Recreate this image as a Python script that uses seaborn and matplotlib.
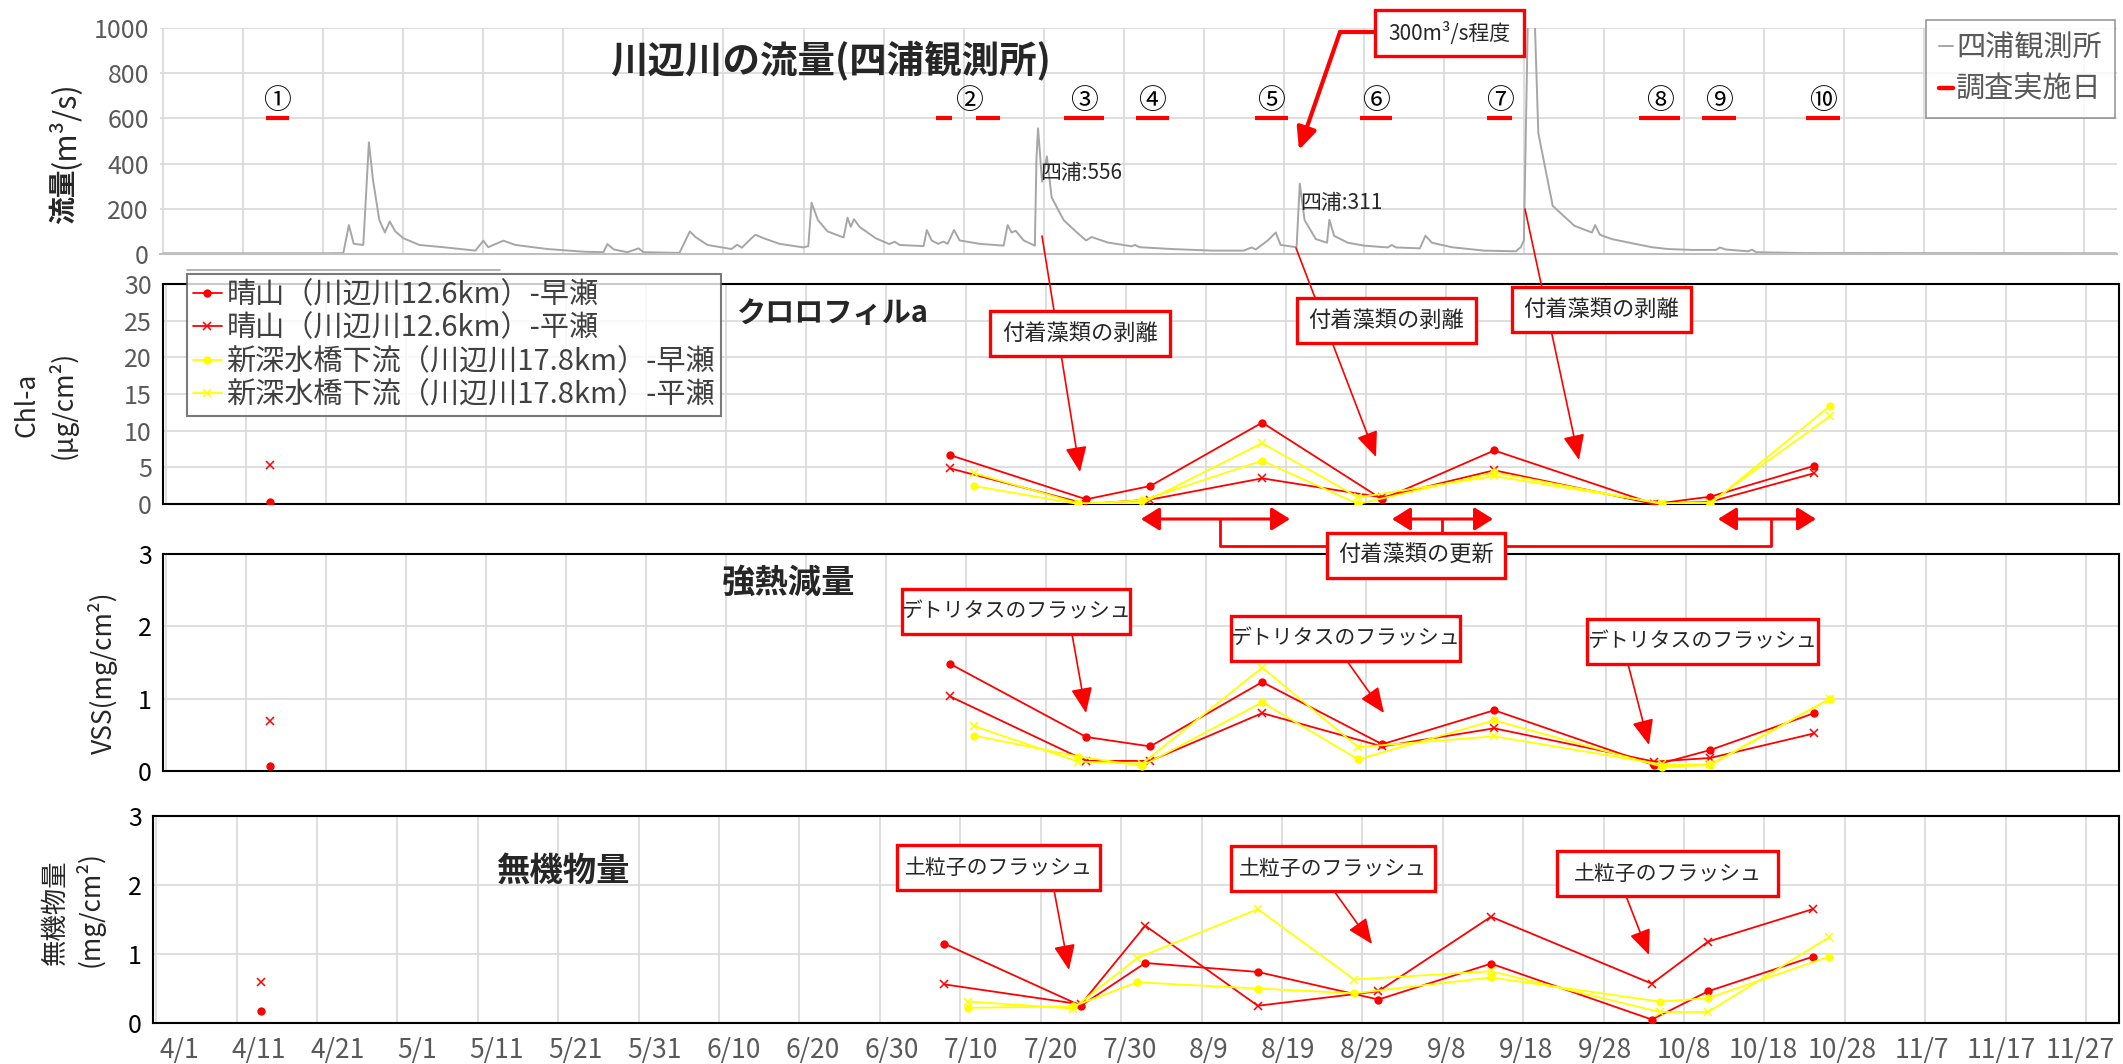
import datetime as dt

import matplotlib
matplotlib.use("Agg")
import matplotlib.pyplot as plt
import matplotlib.transforms as mtransforms
from matplotlib.lines import Line2D
from matplotlib.patches import Rectangle, FancyArrowPatch, ArrowStyle
import numpy as np
import pandas as pd
import seaborn as sns

sns.set_style("white")
plt.rcParams["font.family"] = ["Noto Sans CJK JP", "DejaVu Sans"]
plt.rcParams["axes.unicode_minus"] = False

ORIGIN = dt.date(2021, 4, 1)


def day_of(md):
    m, d = (int(v) for v in md.split("/"))
    return (dt.date(2021, m, d) - ORIGIN).days


# ---------------------------------------------------------------- data
# 四浦観測所の流量 (4/1 からの日数, m3/s)
flow_day = [0, 10, 20, 22.5, 23.2, 23.8, 25.0, 25.7, 26.2, 27.0, 27.7, 28.3, 29, 30, 32, 35, 39,
            40, 40.6, 42.5, 44, 48, 52.6, 55, 55.5, 56.3, 58, 59.4, 60, 64.5, 65.8, 66.5, 68, 71,
            71.7, 72.3, 73.5, 74, 75, 77, 80, 80.6, 81, 81.8, 83, 85, 85.5, 85.9, 86.3, 87, 89,
            90.7, 91.4, 92, 95, 95.4, 96, 96.8, 97.5, 98, 98.8, 99.5, 102, 105, 105.5, 106, 106.5,
            107.5, 108.9, 109.1, 109.3, 109.8, 110.4, 111, 112.5, 114, 115.3, 116, 118, 121, 121.4,
            122, 126, 131, 135, 136, 136.5, 138, 139, 139.6, 140.6, 141.6, 142, 142.6, 144, 145.4,
            145.7, 146.3, 148, 150, 153, 153.5, 154, 157, 157.7, 158.5, 161, 165, 169, 169.6,
            170.0, 170.6, 171.3, 171.8, 173.6, 176.3, 178.5, 178.9, 179.5, 181, 184, 186, 188, 191,
            194, 194.5, 195.2, 198, 198.5, 199, 205, 244]
flow_q = [3, 3, 3, 4, 128, 45, 40, 494, 330, 150, 95, 144, 100, 70, 40, 30, 15,
          59, 30, 59, 40, 22, 10, 8, 44, 20, 8, 25, 8, 5, 100, 75, 40, 22,
          41, 28, 70, 85, 70, 45, 29, 35, 227, 150, 100, 73, 161, 120, 154, 120, 70,
          44, 54, 40, 35, 106, 60, 45, 55, 45, 106, 60, 45, 37, 128, 95, 103,
          60, 37, 420, 556, 320, 432, 250, 150, 100, 60, 75, 51, 34, 40,
          30, 22, 15, 15, 29, 20, 60, 95, 40, 35, 30, 311, 150, 66, 50,
          151, 80, 50, 37, 29, 40, 29, 25, 81, 50, 30, 15, 12, 30,
          60, 1250, 1100, 535, 213, 125, 95, 128, 85, 66, 44, 30, 22, 18,
          18, 29, 20, 12, 19, 8, 4, 3]

# 調査実施日 (バー表示区間, 日数)
survey_no = ["①", "②", "②", "③", "④", "⑤", "⑥", "⑦", "⑧", "⑨", "⑩"]
survey_start = [12.8, 96.6, 101.5, 112.5, 121.5, 136.4, 149.5, 165.4, 184.4, 192.3, 205.3]
survey_end = [15.7, 98.5, 104.6, 117.5, 125.6, 140.5, 153.5, 168.5, 189.5, 196.5, 209.5]

# 採取日
haruyama_date = ["4/14", "7/8", "7/25", "8/2", "8/16", "8/31", "9/14", "10/4", "10/11", "10/24"]
shinfuka_date = ["7/11", "7/24", "8/1", "8/16", "8/28", "9/14", "10/5", "10/11", "10/26"]

# クロロフィルa (μg/cm2)
chl_haruyama_hayase = [0.3, 6.66, 0.64, 2.45, 11.1, 0.64, 7.3, 0.0, 1.0, 5.2]
chl_haruyama_hirase = [5.3, 4.85, 0.0, 0.6, 3.5, 0.9, 4.6, 0.0, 0.3, 4.2]
chl_shinfuka_hayase = [2.45, 0.0, 0.5, 5.9, 0.0, 4.3, 0.0, 0.0, 13.4]
chl_shinfuka_hirase = [4.2, 0.1, 0.1, 8.3, 0.9, 3.8, 0.1, 0.2, 12.0]

# 強熱減量 VSS (mg/cm2)
vss_haruyama_hayase = [0.07, 1.48, 0.47, 0.34, 1.23, 0.37, 0.84, 0.08, 0.29, 0.80]
vss_haruyama_hirase = [0.69, 1.03, 0.14, 0.14, 0.80, 0.34, 0.59, 0.13, 0.18, 0.52]
vss_shinfuka_hayase = [0.49, 0.20, 0.07, 0.95, 0.16, 0.70, 0.06, 0.08, 1.00]
vss_shinfuka_hirase = [0.62, 0.13, 0.10, 1.43, 0.33, 0.48, 0.09, 0.09, 1.00]

# 無機物量 (mg/cm2)
ino_haruyama_hayase = [0.18, 1.15, 0.25, 0.87, 0.74, 0.34, 0.86, 0.05, 0.46, 0.96]
ino_haruyama_hirase = [0.60, 0.56, 0.27, 1.41, 0.25, 0.46, 1.54, 0.57, 1.18, 1.65]
ino_shinfuka_hayase = [0.22, 0.24, 0.59, 0.50, 0.43, 0.66, 0.31, 0.36, 0.96]
ino_shinfuka_hirase = [0.31, 0.21, 0.94, 1.65, 0.63, 0.75, 0.16, 0.16, 1.24]

series_names = ["晴山（川辺川12.6km）-早瀬", "晴山（川辺川12.6km）-平瀬",
                "新深水橋下流（川辺川17.8km）-早瀬", "新深水橋下流（川辺川17.8km）-平瀬"]

x_tick_labels = ["4/1", "4/11", "4/21", "5/1", "5/11", "5/21", "5/31", "6/10", "6/20", "6/30",
                 "7/10", "7/20", "7/30", "8/9", "8/19", "8/29", "9/8", "9/18", "9/28", "10/8",
                 "10/18", "10/28", "11/7", "11/17", "11/27"]

# ---------------------------------------------------------------- style
W, H, DPI = 2123, 1064, 100
RED = "#FF0000"
YEL = "#FFFF00"
GRID = "#D9D9D9"
TXT_GRAY = "#595959"
XLIM = (-0.4, 244.1)


def fx(px):
    return px / W


def fy(py):
    return 1 - py / H


def axes_rect(left, top, right, bottom):
    return [fx(left), fy(bottom), (right - left) / W, (bottom - top) / H]


fig = plt.figure(figsize=(W / DPI, H / DPI), dpi=DPI)
fig.patch.set_facecolor("white")

ax_q = fig.add_axes(axes_rect(160, 28, 2117, 254))
ax_chl = fig.add_axes(axes_rect(163, 284, 2119, 504))
ax_vss = fig.add_axes(axes_rect(163, 554, 2119, 771))
ax_ino = fig.add_axes(axes_rect(153, 816, 2119, 1023))

grid_days = [day_of(t) for t in x_tick_labels]


def style_axis(ax, ymax, ystep, tick_color, boxed=True):
    ax.set_xlim(*XLIM)
    ax.set_ylim(0, ymax)
    ax.set_xticks(grid_days)
    ax.set_yticks(np.arange(0, ymax + ystep / 2, ystep))
    ax.grid(True, color=GRID, lw=1.2)
    ax.set_axisbelow(True)
    ax.tick_params(length=0, labelsize=18, colors=tick_color, pad=8)
    ax.set_xticklabels([])
    for lab in ax.get_yticklabels():
        lab.set_family(["Liberation Sans Narrow", "Noto Sans CJK JP"])
    for s in ax.spines.values():
        s.set_visible(boxed)
        s.set_color("black")
        s.set_linewidth(1.5)
    ax.set_xlabel("")
    ax.set_ylabel("")


# ---------------------------------------------------------------- flow panel
flow_df = pd.DataFrame({"day": flow_day, "q": flow_q})
sns.lineplot(data=flow_df, x="day", y="q", ax=ax_q, color="#A6A6A6", lw=1.4,
             sort=False, estimator=None, legend=False)
style_axis(ax_q, 1000, 200, TXT_GRAY, boxed=False)
ax_q.spines["bottom"].set_visible(True)
ax_q.spines["bottom"].set_color("#BFBFBF")

bar_df = pd.DataFrame({"start": survey_start, "end": survey_end, "no": survey_no})
for _, r in bar_df.iterrows():
    ax_q.plot([r.start, r.end], [600, 600], color=RED, lw=3.0, solid_capstyle="butt")
for no, g in bar_df.groupby("no", sort=False):
    xc = (g.start.min() + g.end.max()) / 2
    ax_q.text(xc, 675, no, ha="center", va="center", fontsize=20, color="black")

ax_q.text(109.6, 360, "四浦:556", fontsize=15, ha="left", va="center")
ax_q.text(142.0, 225, "四浦:311", fontsize=15, ha="left", va="center")

leg_q = ax_q.legend(
    handles=[Line2D([], [], color="#A6A6A6", lw=1.4), Line2D([], [], color=RED, lw=3.2)],
    labels=["四浦観測所", "調査実施日"], loc="upper right",
    bbox_to_anchor=(fx(2115), fy(20)), bbox_transform=fig.transFigure,
    fontsize=21, frameon=True, fancybox=False, handlelength=0.5, handletextpad=0.1,
    borderpad=0.45, labelspacing=0.4, borderaxespad=0)
leg_q.get_frame().set_edgecolor("#7F7F7F")
leg_q.get_frame().set_linewidth(1.2)
for t in leg_q.get_texts():
    t.set_color(TXT_GRAY)

# ---------------------------------------------------------------- water quality panels
hr_days = [day_of(d) for d in haruyama_date]
sf_days = [day_of(d) for d in shinfuka_date]

series_style = [
    dict(color=RED, marker="o", ms=6, mew=0),
    dict(color=RED, marker="x", ms=6, mew=1.1),
    dict(color=YEL, marker="o", ms=6, mew=0),
    dict(color=YEL, marker="x", ms=6, mew=1.1),
]


def draw_series(ax, values):
    days_list = [hr_days, hr_days, sf_days, sf_days]
    for k, (days, vals, st) in enumerate(zip(days_list, values, series_style)):
        df = pd.DataFrame({"day": days, "v": vals})
        if k < 2:
            # first survey stands alone, the rest are joined
            lone, joined = df.iloc[:1], df.iloc[1:]
            ax.plot(lone.day, lone.v, ls="none", marker=st["marker"], ms=st["ms"],
                    mew=st["mew"], color=st["color"], zorder=3)
        else:
            joined = df
        sns.lineplot(data=joined, x="day", y="v", ax=ax, color=st["color"], lw=1.3,
                     marker=st["marker"], markersize=st["ms"], markeredgewidth=st["mew"],
                     markeredgecolor=st["color"], sort=False, estimator=None, legend=False,
                     zorder=3)


draw_series(ax_chl, [chl_haruyama_hayase, chl_haruyama_hirase, chl_shinfuka_hayase, chl_shinfuka_hirase])
style_axis(ax_chl, 30, 5, TXT_GRAY)
draw_series(ax_vss, [vss_haruyama_hayase, vss_haruyama_hirase, vss_shinfuka_hayase, vss_shinfuka_hirase])
style_axis(ax_vss, 3, 1, "black")
draw_series(ax_ino, [ino_haruyama_hayase, ino_haruyama_hirase, ino_shinfuka_hayase, ino_shinfuka_hirase])
style_axis(ax_ino, 3, 1, "black")

# x tick labels on the bottom panel
ax_ino.set_xticklabels(x_tick_labels)
ax_ino.tick_params(axis="x", colors=TXT_GRAY, labelsize=19, pad=10)
for i, lab in enumerate(ax_ino.get_xticklabels()):
    lab.set_family(["Liberation Sans Narrow", "Noto Sans CJK JP"])
    shift = (23 - 1.2 * i) / DPI
    lab.set_transform(lab.get_transform() + mtransforms.ScaledTranslation(shift, 0, fig.dpi_scale_trans))

handles = [Line2D([], [], color=st["color"], lw=1.3, marker=st["marker"], ms=st["ms"],
                  mew=st["mew"], mec=st["color"]) for st in series_style]
leg_s = ax_chl.legend(handles=handles, labels=series_names, loc="upper left",
                      bbox_to_anchor=(fx(187), fy(274)), bbox_transform=fig.transFigure,
                      fontsize=21, frameon=True, fancybox=False, handlelength=1.0,
                      handletextpad=0.15, borderpad=0.2, labelspacing=0.12, borderaxespad=0)
leg_s.get_frame().set_edgecolor("#595959")
leg_s.get_frame().set_linewidth(1.5)
for t in leg_s.get_texts():
    t.set_color("#404040")

fig.add_artist(Line2D([fx(187), fx(500)], [fy(270), fy(270)], color="#A6A6A6", lw=1.2))

# ---------------------------------------------------------------- titles and axis labels
fig.text(fx(610), fy(61), "川辺川の流量(四浦観測所)", fontsize=27, fontweight="bold", ha="left", va="center")
fig.text(fx(833), fy(313), "クロロフィルa", fontsize=21, fontweight="bold", ha="center", va="center")
fig.text(fx(789), fy(583), "強熱減量", fontsize=24, fontweight="bold", ha="center", va="center")
fig.text(fx(563), fy(871), "無機物量", fontsize=24, fontweight="bold", ha="center", va="center")

fig.text(fx(64), fy(196), "流量", fontsize=20, fontweight="bold", rotation=90, ha="center", va="center")
fig.text(fx(64), fy(125), "(m³/s)", fontsize=22, rotation=90, ha="center", va="center")
fig.text(fx(27), fy(405), "Chl-a", fontsize=19, rotation=90, ha="center", va="center")
fig.text(fx(63), fy(405), "(μg/cm²)", fontsize=19, rotation=90, ha="center", va="center")
fig.text(fx(103), fy(673), "VSS(mg/cm²)", fontsize=19, rotation=90, ha="center", va="center")
fig.text(fx(55), fy(912), "無機物量", fontsize=19, rotation=90, ha="center", va="center")
fig.text(fx(90), fy(909), "(mg/cm²)", fontsize=19, rotation=90, ha="center", va="center")

# ---------------------------------------------------------------- callouts


def box(x0, y0, x1, y1, text, size):
    fig.add_artist(Rectangle((fx(x0), fy(y1)), fx(x1) - fx(x0), fy(y0) - fy(y1),
                             transform=fig.transFigure, facecolor="white", edgecolor=RED,
                             lw=2.4, zorder=5))
    fig.text(fx((x0 + x1) / 2), fy((y0 + y1) / 2), text, ha="center", va="center",
             fontsize=size, zorder=6)


def arrow(p0, p1, lw=1.2, hl=1.3, hw=0.55, scale=12, style="-|>"):
    fig.add_artist(FancyArrowPatch(
        (fx(p0[0]), fy(p0[1])), (fx(p1[0]), fy(p1[1])), transform=fig.transFigure,
        arrowstyle=ArrowStyle(style, head_length=hl, head_width=hw), mutation_scale=scale,
        color=RED, lw=lw, shrinkA=0, shrinkB=0, zorder=4))


def seg(pts, lw=2.0):
    xs, ys = zip(*pts)
    fig.add_artist(Line2D([fx(x) for x in xs], [fy(y) for y in ys], color=RED, lw=lw, zorder=4))


# 300m3/s
seg([(1375, 32), (1340, 32)], lw=3.0)
arrow((1340, 32), (1299, 150), lw=3.0, hl=1.1, hw=0.5, scale=12)
box(1375, 10, 1524, 56, "300m³/s程度", 15)

# 付着藻類の剥離
arrow((1042, 236), (1080, 472))
box(990, 311, 1170, 356, "付着藻類の剥離", 16)
arrow((1296, 248), (1376, 457))
box(1297, 298, 1476, 343, "付着藻類の剥離", 16)
arrow((1525, 209), (1579, 460))
box(1512, 287, 1691, 332, "付着藻類の剥離", 16)

# 付着藻類の更新
for a, b in [(1141, 1290), (1392, 1493), (1718, 1816)]:
    arrow((a, 519), (b, 519), lw=2.2, hl=0.8, hw=0.5, scale=14, style="<|-|>")
seg([(1220, 519), (1220, 546), (1327, 546)])
seg([(1442, 519), (1442, 533)])
seg([(1771, 519), (1771, 546), (1505, 546)])
box(1327, 533, 1505, 578, "付着藻類の更新", 16)

# デトリタスのフラッシュ
arrow((1072, 634), (1086, 713))
box(902, 589, 1130, 634, "デトリタスのフラッシュ", 15)
arrow((1347, 661), (1384, 713))
box(1231, 616, 1460, 661, "デトリタスのフラッシュ", 15)
arrow((1628, 664), (1649, 745))
box(1587, 619, 1818, 664, "デトリタスのフラッシュ", 15)

# 土粒子のフラッシュ
arrow((1054, 890), (1069, 970))
box(897, 845, 1100, 890, "土粒子のフラッシュ", 15)
arrow((1334, 891), (1372, 944))
box(1231, 846, 1435, 891, "土粒子のフラッシュ", 15)
arrow((1626, 896), (1649, 955))
box(1557, 851, 1778, 896, "土粒子のフラッシュ", 15)

fig.savefig("out.png", dpi=DPI, facecolor="white")
